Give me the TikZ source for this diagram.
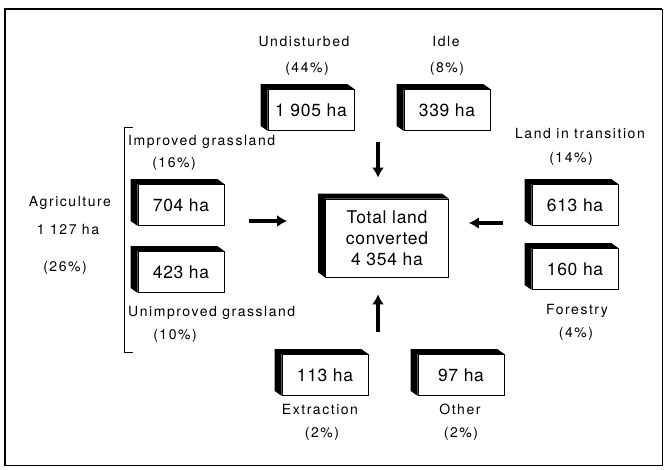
\documentclass[tikz,border=0pt]{standalone}
\usepackage{fontspec}
\setmainfont{TeX Gyre Heros}
\newfontfamily\boxfont[LetterSpace=4]{TeX Gyre Heros}
\newfontfamily\tagfont[LetterSpace=11]{TeX Gyre Heros}
\usetikzlibrary{arrows.meta}

\tikzstyle{landbox}=[
    rectangle,
    line width=0.8pt,
    minimum width=86pt,
    minimum height=41pt,
    inner sep=0pt,
    draw=black,
    fill=white,
    font=\boxfont\fontsize{17.5}{21}\selectfont
]
\tikzstyle{tag}=[
    inner sep=0pt,
    text height=1.5ex,
    text depth=0.3ex,
    font=\tagfont\fontsize{14}{16}\selectfont
]
\tikzstyle{flow}=[
    line width=3.5pt,
    -{Latex[length=10pt,width=12pt]}
]

\begin{document}
\begin{tikzpicture}[x=1pt,y=-1pt]
	\useasboundingbox (0,0) rectangle (665,470);
	% frame
	\draw[line width=2pt] (662,9) -- (5,9) -- (5,466);
	\draw[line width=1pt] (5,466) -- (662,466) -- (662,9);

	% boxes
	\node (undist) [landbox] at (311,110) {1 905 ha};
	\node (idle)   [landbox] at (447,110) {339 ha};
	\node (impr)   [landbox] at (181,205) {704 ha};
	\node (unimpr) [landbox] at (181,272) {423 ha};
	\node (trans)  [landbox] at (575,205) {613 ha};
	\node (forest) [landbox] at (575,269) {160 ha};
	\node (extr)   [landbox] at (325,375) {113 ha};
	\node (other)  [landbox] at (461,375) {97 ha};
	\node (total)  [landbox, minimum width=123pt, minimum height=78pt,
	    align=center] at (387,238) {Total land\\converted\\4 354 ha};

	% black sides of the boxes
	\foreach \b in {undist,idle,impr,unimpr,trans,forest,extr,other,total}
		\fill (\b.south west) -- ++(-7pt,5pt)
		    |- ([shift={(-7pt,5pt)}]\b.north east)
		    -- (\b.north east) -- (\b.north west) -- cycle;

	% labels
	\node (undist_t) [tag] at (304,43) {Undisturbed};
	\node (undist_p) [tag] at (307,69) {(44\%)};
	\node (idle_t)   [tag] at (446,43) {Idle};
	\node (idle_p)   [tag] at (447,69) {(8\%)};
	\node (impr_t)   [tag, anchor=west] at (128,142) {Improved grassland};
	\node (impr_p)   [tag] at (174,164) {(16\%)};
	\node (agri_t)   [tag] at (70,203) {Agriculture};
	\node (agri_n)   [tag] at (68,231) {1 127 ha};
	\node (agri_p)   [tag] at (65,268) {(26\%)};
	\node (unimpr_t) [tag, anchor=west] at (128,313) {Unimproved grassland};
	\node (unimpr_p) [tag] at (175,336) {(10\%)};
	\node (trans_t)  [tag] at (580,135) {Land in transition};
	\node (trans_p)  [tag] at (571,159) {(14\%)};
	\node (forest_t) [tag] at (577,311) {Forestry};
	\node (forest_p) [tag] at (576,334) {(4\%)};
	\node (extr_t)   [tag] at (320,411) {Extraction};
	\node (extr_p)   [tag] at (322,434) {(2\%)};
	\node (other_t)  [tag] at (460,411) {Other};
	\node (other_p)  [tag] at (461,434) {(2\%)};

	% agriculture bracket
	\draw[line width=0.8pt] (133,127) -- (124,127) -- (124,352) -- (133,352);

	% arrows into the total
	\coordinate (in_top)    at (378,142);
	\coordinate (in_bottom) at (378,332);
	\coordinate (in_left)   at (249,221);
	\coordinate (in_right)  at (503,223);
	\draw[flow, shorten >=21pt] (in_top) -- (in_top |- total.north);
	\draw[flow, shorten >=17pt] (in_bottom) -- (in_bottom |- total.south);
	\draw[flow, shorten >=38pt] (in_left) -- (in_left -| total.west);
	\draw[flow, shorten >=20pt] (in_right) -- (in_right -| total.east);
\end{tikzpicture}
\end{document}
